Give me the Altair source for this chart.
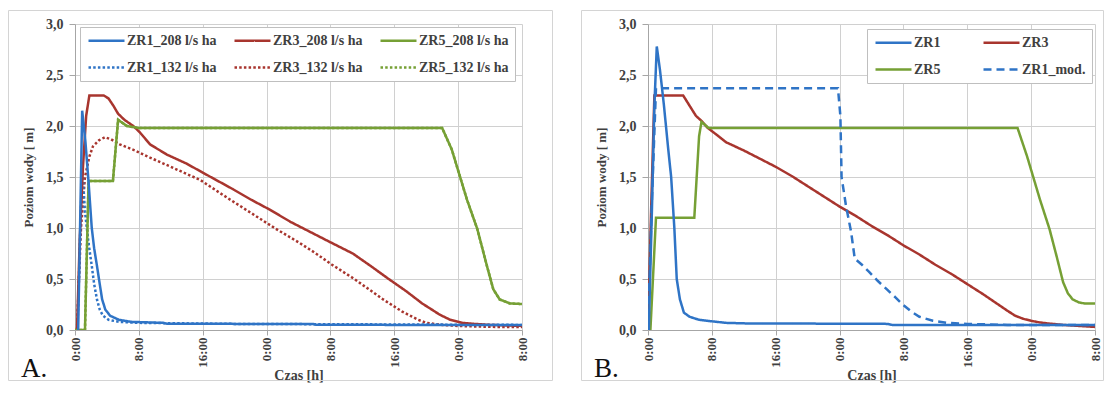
import altair as alt
import pandas as pd

# ---------------- Panel A data (time [h], water level [m]) ----------------
a_zr1_208_t = [0.4, 0.9, 1.3, 1.7, 2.1, 2.4, 2.75, 3.1, 3.4, 3.8, 4.4, 5.5, 7.0, 9.0, 11.0, 11.5, 20.0, 29.8, 30.2, 40.0, 48.0, 56.0]
a_zr1_208_v = [0.0, 2.15, 1.85, 1.45, 1.0, 0.8, 0.63, 0.45, 0.3, 0.2, 0.14, 0.1, 0.08, 0.075, 0.07, 0.062, 0.06, 0.06, 0.052, 0.05, 0.05, 0.05]

a_zr1_132_t = [0.3, 0.9, 1.25, 1.7, 2.1, 2.4, 2.75, 3.1, 3.5, 4.2, 5.5, 8.0, 20.0, 56.0]
a_zr1_132_v = [0.0, 1.6, 1.16, 0.85, 0.63, 0.45, 0.3, 0.2, 0.14, 0.1, 0.08, 0.07, 0.06, 0.05]

a_zr3_208_t = [0.25, 0.6, 1.0, 1.4, 1.8, 3.6, 4.2, 4.8, 5.4, 6.2, 7.3, 8.1, 9.4, 11.5, 14.0, 17.0, 19.8, 22.0, 24.4, 27.0, 30.0, 32.0, 34.8, 37.0, 39.3, 41.5, 43.5, 45.7, 47.0, 48.5, 50.0, 52.0, 54.0, 56.0]
a_zr3_208_v = [0.0, 0.9, 1.6, 2.1, 2.3, 2.3, 2.27, 2.2, 2.12, 2.06, 2.0, 1.94, 1.82, 1.72, 1.63, 1.5, 1.38, 1.28, 1.18, 1.06, 0.94, 0.86, 0.75, 0.63, 0.5, 0.38, 0.26, 0.15, 0.1, 0.07, 0.06, 0.05, 0.045, 0.04]

a_zr3_132_t = [0.25, 0.75, 1.25, 1.8, 2.25, 3.0, 3.75, 4.5, 5.6, 7.5, 9.4, 12.0, 15.7, 19.0, 22.0, 25.0, 28.0, 30.0, 32.2, 35.0, 38.6, 41.0, 43.0, 44.0, 46.0, 48.0, 50.0, 53.0, 56.0]
a_zr3_132_v = [0.0, 1.0, 1.5, 1.7, 1.8, 1.86, 1.89, 1.87, 1.82, 1.76, 1.69, 1.6, 1.47, 1.3, 1.15, 1.0, 0.86, 0.76, 0.64, 0.5, 0.3, 0.18, 0.1, 0.07, 0.05, 0.04, 0.035, 0.03, 0.03]

a_zr5_208_t = [0.0, 1.25, 1.7, 4.75, 5.4, 6.5, 8.0, 46.0, 47.2, 49.1, 50.4, 51.6, 52.4, 53.2, 54.5, 56.0]
a_zr5_208_v = [0.0, 0.0, 1.46, 1.46, 2.06, 2.0, 1.98, 1.98, 1.77, 1.28, 0.99, 0.63, 0.4, 0.3, 0.26, 0.255]

a_zr5_132_t = [0.0, 1.25, 1.7, 4.75, 5.4, 6.5, 8.0, 46.0, 47.2, 49.1, 50.4, 51.6, 52.4, 53.2, 54.5, 56.0]
a_zr5_132_v = [0.0, 0.0, 1.46, 1.46, 2.06, 2.0, 1.98, 1.98, 1.77, 1.28, 0.99, 0.63, 0.4, 0.3, 0.26, 0.255]

# ---------------- Panel B data ----------------
b_zr1_t = [0.1, 0.5, 0.8, 1.1, 1.5, 2.0, 2.5, 2.9, 3.3, 3.6, 4.0, 4.5, 5.2, 6.4, 8.0, 9.8, 12.0, 30.0, 30.6, 56.0]
b_zr1_v = [0.0, 1.2, 2.2, 2.78, 2.55, 2.2, 1.8, 1.5, 1.0, 0.5, 0.3, 0.17, 0.13, 0.1, 0.085, 0.07, 0.065, 0.06, 0.05, 0.05]

b_zr3_t = [0.0, 0.4, 0.8, 4.4, 5.2, 6.0, 6.7, 7.5, 8.5, 9.8, 12.0, 14.0, 16.0, 18.0, 20.0, 22.0, 24.0, 26.0, 28.0, 30.0, 32.0, 34.0, 36.0, 38.0, 40.0, 42.0, 43.5, 45.0, 46.0, 47.0, 48.0, 49.0, 50.0, 52.0, 54.0, 56.0]
b_zr3_v = [0.0, 1.2, 2.3, 2.3, 2.2, 2.1, 2.05, 1.98, 1.92, 1.84, 1.76, 1.68, 1.6, 1.51, 1.41, 1.31, 1.21, 1.12, 1.02, 0.93, 0.83, 0.74, 0.64, 0.55, 0.45, 0.35, 0.27, 0.19, 0.14, 0.11, 0.09, 0.075, 0.065, 0.05, 0.04, 0.03]

b_zr5_t = [0.0, 0.3, 1.0, 5.8, 6.1, 6.4, 6.7, 7.6, 46.3, 47.5, 49.1, 50.3, 51.2, 52.0, 52.6, 53.2, 54.0, 54.7, 56.0]
b_zr5_v = [0.0, 0.0, 1.1, 1.1, 1.5, 1.9, 2.04, 1.98, 1.98, 1.7, 1.28, 0.99, 0.72, 0.47, 0.36, 0.3, 0.27, 0.26, 0.26]

b_zr1mod_t = [0.0, 0.5, 1.0, 23.8, 24.1, 24.25, 24.8, 25.45, 25.9, 26.8, 27.7, 28.8, 29.9, 31.0, 31.9, 33.0, 34.0, 35.7, 37.4, 40.0, 45.0, 50.0, 56.0]
b_zr1mod_v = [0.0, 1.3, 2.37, 2.37, 2.1, 1.5, 1.22, 0.96, 0.7, 0.64, 0.57, 0.48, 0.4, 0.32, 0.25, 0.18, 0.13, 0.09, 0.07, 0.06, 0.05, 0.05, 0.05]

# ---------------- labels / ticks ----------------
x_ticks = [0, 8, 16, 24, 32, 40, 48, 56]
y_ticks = [0.0, 0.5, 1.0, 1.5, 2.0, 2.5, 3.0]

# legend fills column by column (2 rows)
a_names = ["ZR1_208 l/s ha", "ZR1_132 l/s ha", "ZR3_208 l/s ha",
           "ZR3_132 l/s ha", "ZR5_208 l/s ha", "ZR5_132 l/s ha"]
b_names = ["ZR1", "ZR5", "ZR3", "ZR1_mod."]

BLUE = "#2f74c6"
RED = "#a8352e"
GREEN = "#76a035"
SOLID = [1, 0]
DOT = [2.5, 2.2]
DASH = [8, 5]

FONT = "Liberation Serif"
TXT = "#404040"


def long_df(items):
    rows = []
    for name, ts, vs in items:
        for t, v in zip(ts, vs):
            rows.append({"series": name, "t": t, "v": v})
    return pd.DataFrame(rows)


df_a = long_df([
    ("ZR5_132 l/s ha", a_zr5_132_t, a_zr5_132_v),
    ("ZR3_132 l/s ha", a_zr3_132_t, a_zr3_132_v),
    ("ZR1_132 l/s ha", a_zr1_132_t, a_zr1_132_v),
    ("ZR3_208 l/s ha", a_zr3_208_t, a_zr3_208_v),
    ("ZR5_208 l/s ha", a_zr5_208_t, a_zr5_208_v),
    ("ZR1_208 l/s ha", a_zr1_208_t, a_zr1_208_v),
])

df_b = long_df([
    ("ZR3", b_zr3_t, b_zr3_v),
    ("ZR5", b_zr5_t, b_zr5_v),
    ("ZR1", b_zr1_t, b_zr1_v),
    ("ZR1_mod.", b_zr1mod_t, b_zr1mod_v),
])

W, H = 447, 306


def panel(df, names, colors, dashes, ncols, lx, ly, colpad, letter, frame_right):
    leg = alt.Legend(
        title=None, orient="none", legendX=lx, legendY=ly, columns=ncols,
        symbolType="M-3,0L3,0", symbolSize=144, symbolStrokeWidth=2.5,
        symbolOffset=13,
        labelFont=FONT, labelFontSize=14, labelFontWeight="bold", labelColor=TXT,
        labelOffset=13, labelLimit=300,
        fillColor="white", strokeColor="#bfbfbf", padding=6,
        rowPadding=12, columnPadding=colpad,
    )
    lines = alt.Chart(df).mark_line(strokeWidth=2.5, clip=True).encode(
        x=alt.X("t:Q", scale=alt.Scale(domain=[0, 56], nice=False, zero=False),
                axis=alt.Axis(values=x_ticks, labelExpr="(datum.value % 24) + ':00'",
                              title="Czas [h]", labelAngle=270, tickSize=5, labelPadding=2,
                              labelFontSize=13, titlePadding=1)),
        y=alt.Y("v:Q", scale=alt.Scale(domain=[0, 3], nice=False),
                axis=alt.Axis(values=y_ticks,
                              labelExpr="replace(format(datum.value, '.1f'), '.', ',')",
                              title="Poziom wody [ m]", tickSize=6, labelPadding=6,
                              titlePadding=10, titleFontSize=13)),
        color=alt.Color("series:N", scale=alt.Scale(domain=names, range=colors), legend=leg),
        strokeDash=alt.StrokeDash("series:N", scale=alt.Scale(domain=names, range=dashes), legend=leg),
    )
    one = pd.DataFrame({"label": [letter]})
    frame = alt.Chart(one).mark_rect(fillOpacity=0, stroke="#d4d4d4", strokeWidth=1).encode(
        x=alt.value(-66.5), x2=alt.value(frame_right), y=alt.value(-13.5), y2=alt.value(356.5)
    )
    txt = alt.Chart(one).mark_text(font=FONT, fontSize=27, color="#111111", align="left",
                                   baseline="alphabetic").encode(
        x=alt.value(-54), y=alt.value(353), text="label:N"
    )
    return alt.layer(frame, txt, lines).properties(width=W, height=H)


chart_a = panel(df_a, a_names, [BLUE, BLUE, RED, RED, GREEN, GREEN],
                [SOLID, DOT, SOLID, DOT, SOLID, DOT], 3, 5, 3, 12, "A.", 477.5)
chart_b = panel(df_b, b_names, [BLUE, GREEN, RED, BLUE],
                [SOLID, SOLID, SOLID, DASH], 2, 219, 5, 37, "B.", 455.5)

chart = alt.hconcat(chart_a, chart_b, spacing=28).resolve_scale(
    color="independent", strokeDash="independent"
).properties(
    padding={"left": 0, "top": 2, "right": 0, "bottom": 0},
    background="white",
).configure_view(stroke=None).configure_axis(
    labelFont=FONT, labelFontSize=14, labelFontWeight="bold", labelColor=TXT,
    titleFont=FONT, titleFontSize=14, titleFontWeight="bold", titleColor=TXT,
    gridColor="#d0d0d0", gridWidth=1, domainColor="#a6a6a6", tickColor="#a6a6a6",
)

chart.save("out.html", embed_options={"renderer": "svg", "actions": False})
